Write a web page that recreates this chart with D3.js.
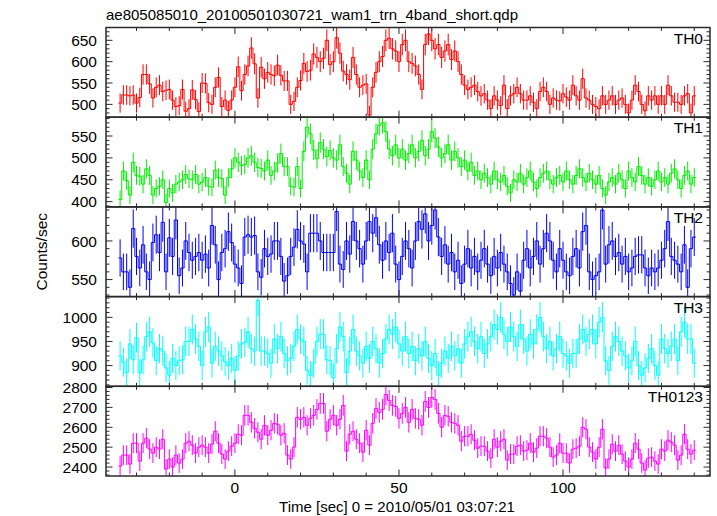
<!DOCTYPE html>
<html><head><meta charset="utf-8">
<script src="https://cdn.jsdelivr.net/npm/d3@7"></script>
<style>
body{margin:0;background:#fff}
svg{display:block}
text{font-family:"Liberation Sans",Arial,Helvetica,sans-serif;fill:#000}
</style>
</head><body>
<svg id="chart" width="717" height="516"></svg>
<script>
// ---------- data ----------
const titleText = "ae805085010_20100501030721_wam1_trn_4band_short.qdp";
const xLabel = "Time [sec] 0 = 2010/05/01 03:07:21";
const yLabel = "Counts/sec";
const firstBin = -35;   // centre of first 1-s bin
const binWidth = 1;
const th0 = [
503,522,522,520,522,503,516,570,570,548,
515,540,545,530,533,535,510,495,497,535,
484,490,534,511,483,550,549,504,500,540,
563,495,510,486,510,540,588,532,570,590,
632,595,515,587,560,575,570,567,592,568,
555,555,500,507,540,556,596,577,580,618,
610,600,608,650,593,600,656,620,578,570,
558,610,570,540,545,548,475,540,575,600,
612,650,655,630,625,600,640,650,600,596,
590,570,535,640,665,650,630,640,610,625,
640,605,625,600,570,545,535,540,545,530,
520,525,510,490,520,510,497,545,490,520,
525,540,525,510,510,520,505,490,530,540,
530,500,515,510,508,525,517,510,545,520,
510,560,515,510,500,495,490,520,500,510,
520,500,510,515,500,480,510,545,530,500,
485,520,510,520,500,520,500,545,520,505,
505,500,520,525,480,520];
const th1 = [
405,470,448,415,490,460,458,440,475,460,
415,430,435,450,398,430,420,440,445,450,
462,452,450,462,440,445,455,435,433,472,
455,453,415,455,475,500,490,482,485,500,
505,490,478,476,470,495,460,470,488,510,
480,480,435,433,480,430,515,570,555,518,
498,535,520,503,517,500,495,530,480,465,
440,515,495,470,455,495,450,520,555,575,
580,560,520,505,530,500,520,495,510,530,
500,515,540,505,520,560,545,525,500,510,
530,495,515,500,480,495,470,490,460,470,
450,465,455,440,470,450,445,460,435,420,
450,445,465,440,455,470,445,430,455,465,
470,450,440,455,460,445,470,450,440,460,
475,455,445,465,450,440,460,430,415,445,
455,440,465,450,430,470,455,445,480,460,
440,455,435,450,470,445,455,440,465,475,
450,430,460,470,440,455];
const th2 = [
578,560,560,540,616,580,565,595,560,550,
598,608,585,624,560,604,580,627,555,565,
600,585,575,580,585,575,583,565,620,595,
550,585,590,612,598,570,565,545,605,608,
605,607,560,553,590,580,583,600,600,580,
548,555,580,592,615,600,596,560,610,610,
610,600,585,585,585,585,638,570,563,600,
583,625,600,590,570,600,625,610,630,595,
575,600,585,610,570,550,580,600,590,565,
600,625,615,635,600,620,640,605,580,595,
570,585,560,575,545,570,590,565,580,560,
575,590,570,555,580,565,585,570,560,545,
530,560,535,575,590,565,580,600,570,590,
610,600,575,560,590,575,560,555,580,590,
565,612,620,560,550,555,560,640,570,595,
600,580,585,570,580,560,565,580,582,582,
565,555,565,560,565,575,590,625,580,575,
570,560,595,540,590,605];
const th3 = [
920,907,885,945,912,958,885,912,960,970,
947,910,935,930,895,880,915,900,910,912,
950,950,975,955,940,900,970,980,905,940,
930,920,908,900,915,890,920,945,948,970,
935,930,1035,930,930,925,905,955,935,960,
925,910,915,940,975,955,950,890,880,905,
950,965,965,912,910,875,935,980,960,885,
930,975,930,920,905,940,915,950,935,905,
925,955,975,965,980,945,930,960,925,940,
910,935,920,950,915,900,925,880,905,930,
915,940,920,935,905,945,960,970,950,935,
960,925,945,960,985,975,1000,965,950,980,
960,940,985,955,930,965,945,975,1000,960,
935,950,920,935,960,925,920,905,925,925,
955,975,950,965,975,945,990,1000,910,890,
940,960,950,930,920,895,910,950,900,880,
895,915,935,900,880,955,935,925,940,955,
910,970,990,955,955,905];
const th0123 = [
2405,2460,2460,2415,2520,2520,2430,2520,2545,2490,
2470,2500,2490,2540,2390,2440,2400,2460,2420,2440,
2520,2530,2510,2470,2500,2510,2500,2470,2515,2580,
2520,2465,2440,2480,2505,2520,2565,2560,2660,2660,
2625,2595,2575,2540,2610,2560,2585,2620,2615,2560,
2570,2460,2440,2500,2650,2640,2650,2610,2645,2660,
2690,2720,2720,2580,2640,2660,2610,2640,2710,2480,
2565,2580,2540,2520,2475,2585,2510,2620,2695,2675,
2690,2765,2735,2710,2705,2645,2670,2700,2625,2690,
2645,2640,2610,2730,2700,2750,2740,2670,2600,2660,
2655,2625,2620,2610,2530,2555,2555,2565,2535,2495,
2505,2505,2480,2445,2540,2500,2530,2540,2435,2465,
2465,2505,2510,2480,2485,2520,2475,2495,2555,2555,
2545,2500,2450,2460,2520,2470,2470,2420,2490,2495,
2505,2600,2590,2500,2475,2440,2500,2590,2395,2440,
2515,2480,2510,2465,2430,2400,2440,2520,2490,2420,
2385,2445,2450,2430,2415,2490,2480,2535,2525,2510,
2435,2460,2565,2490,2465,2485];
const panelNames = ["TH0","TH1","TH2","TH3","TH0123"];
const panelSeries = [th0, th1, th2, th3, th0123];
const panelColors = ["#ff0000","#00ee00","#0000ff","#00ffff","#ff00ff"];
const yDomains = [[470,680],[388,593],[528,644],[857,1043],[2355,2806]];
const yLabelStep = [50,50,50,50,100];
const yMinorStep = [10,10,10,10,20];
const xDomain = [-39.3, 144.8];
const xMajorTicks = [0,50,100];
const xMinorStep = 10;

// ---------- layout ----------
const svg = d3.select("#chart");
const L = 106, R = 710, T = 27.5, B = 476;
const nP = panelNames.length;
const pH = (B - T) / nP;
const x = d3.scaleLinear().domain(xDomain).range([L, R]);
const majorLen = 6.5, minorLen = 3.5;
const frameColor = "#2a2a2a";

svg.append("text").attr("x", 106).attr("y", 20).attr("font-size", 15).text(titleText);

const xMinor = d3.range(Math.ceil(xDomain[0]/xMinorStep)*xMinorStep, xDomain[1], xMinorStep);

panelSeries.forEach((vals, i) => {
  const top = T + i * pH, bot = top + pH;
  const y = d3.scaleLinear().domain(yDomains[i]).range([bot, top]);
  const g = svg.append("g");
  const cid = "clip" + i;
  svg.append("clipPath").attr("id", cid).append("rect")
    .attr("x", L).attr("y", top).attr("width", R - L).attr("height", pH);

  const data = vals.map((v, k) => ({t: firstBin + k * binWidth, v: v, e: Math.sqrt(v)}));
  const dg = g.append("g").attr("clip-path", `url(#${cid})`);
  // error bars
  dg.selectAll("line.err").data(data).enter().append("line")
    .attr("x1", d => x(d.t)).attr("x2", d => x(d.t))
    .attr("y1", d => y(d.v - d.e)).attr("y2", d => y(d.v + d.e))
    .attr("stroke", panelColors[i]).attr("stroke-width", 1);
  // step line
  const pts = [];
  data.forEach(d => { pts.push([d.t - binWidth/2, d.v]); pts.push([d.t + binWidth/2, d.v]); });
  dg.append("path").datum(pts)
    .attr("d", d3.line().x(p => x(p[0])).y(p => y(p[1])))
    .attr("fill", "none").attr("stroke", panelColors[i]).attr("stroke-width", 1);

  // y ticks (left and right), inward
  const yd = yDomains[i];
  const minorT = d3.range(Math.ceil(yd[0]/yMinorStep[i])*yMinorStep[i], yd[1] + 0.001, yMinorStep[i]);
  const tg = g.append("g").attr("stroke", frameColor).attr("stroke-width", 1);
  minorT.forEach(v => {
    const isMajor = Math.abs(v / yLabelStep[i] - Math.round(v / yLabelStep[i])) < 1e-6;
    const len = isMajor ? majorLen : minorLen;
    const yy = y(v);
    tg.append("line").attr("x1", L).attr("x2", L + len).attr("y1", yy).attr("y2", yy);
    tg.append("line").attr("x1", R).attr("x2", R - len).attr("y1", yy).attr("y2", yy);
    if (isMajor) {
      g.append("text").attr("x", 97).attr("y", yy).attr("dy", "0.36em")
        .attr("text-anchor", "end").attr("font-size", 15.5).text(v);
    }
  });
  // x ticks top & bottom of each panel, inward
  xMinor.forEach(t => {
    const isMajor = t % 50 === 0;
    const len = isMajor ? majorLen : minorLen;
    const xx = x(t);
    tg.append("line").attr("x1", xx).attr("x2", xx).attr("y1", top).attr("y2", top + len);
    tg.append("line").attr("x1", xx).attr("x2", xx).attr("y1", bot).attr("y2", bot - len);
  });
  // frame
  g.append("rect").attr("x", L).attr("y", top).attr("width", R - L).attr("height", pH)
    .attr("fill", "none").attr("stroke", frameColor).attr("stroke-width", 1.5);
  // panel name
  g.append("text").attr("x", 703).attr("y", top + 16).attr("text-anchor", "end")
    .attr("font-size", 15.5).text(panelNames[i]);
});

// x tick labels
xMajorTicks.forEach(t => {
  svg.append("text").attr("x", x(t)).attr("y", 493).attr("text-anchor", "middle")
    .attr("font-size", 15.5).text(t);
});
svg.append("text").attr("x", (L + R) / 2 - 11).attr("y", 512).attr("text-anchor", "middle")
  .attr("font-size", 15).text(xLabel);
svg.append("text").attr("transform", `translate(47,${(T + B) / 2}) rotate(-90)`)
  .attr("text-anchor", "middle").attr("font-size", 15.5).text(yLabel);
</script>
</body></html>
